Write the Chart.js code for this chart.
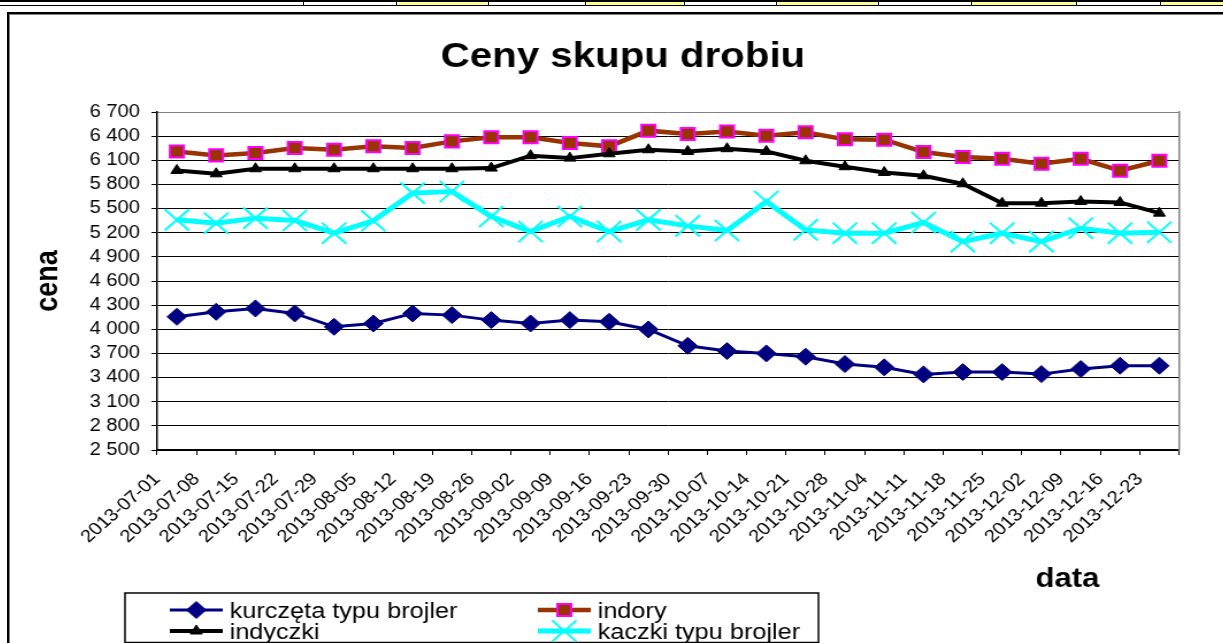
<!DOCTYPE html>
<html>
<head>
<meta charset="utf-8">
<title>Ceny skupu drobiu</title>
<script src="https://cdn.jsdelivr.net/npm/chart.js@4.4.0/dist/chart.umd.min.js"></script>
<style>
    html, body { margin: 0; padding: 0; background: #fff; overflow: hidden; }
    #strip { position: absolute; left: 0; top: 0; width: 1223px; height: 3px; border-top: 2px solid #000; border-bottom: 1px solid #000; }
    .cell { position: absolute; top: 0; height: 3px; border-left: 1px solid #000; }
    .yel { background: #ffff99; }
    #frame { position: absolute; left: 7px; top: 12px; width: 1300px; height: 700px; border: 2px solid #000; box-shadow: inset 1px 1px 0 #808080; }
    #wrap { position: absolute; left: 10px; top: 15px; width: 1055px; height: 628px; transform: scaleX(1.15); transform-origin: 0 0; }
</style>
</head>
<body>
<div id="strip">
    <div class="cell" style="left:303px;width:93px"></div>
    <div class="cell yel" style="left:396px;width:92px"></div>
    <div class="cell" style="left:488px;width:97px"></div>
    <div class="cell yel" style="left:585px;width:99px"></div>
    <div class="cell" style="left:684px;width:92px"></div>
    <div class="cell yel" style="left:776px;width:102px"></div>
    <div class="cell" style="left:878px;width:93px"></div>
    <div class="cell yel" style="left:971px;width:105px"></div>
    <div class="cell" style="left:1076px;width:84px"></div>
    <div class="cell yel" style="left:1160px;width:63px"></div>
</div>
<div id="frame"></div>
<div id="wrap">
    <canvas id="chart" width="1055" height="628" style="width:1055px;height:628px"></canvas>
</div>
<script>
// dane
const dates = ['2013-07-01', '2013-07-08', '2013-07-15', '2013-07-22', '2013-07-29', '2013-08-05',
    '2013-08-12', '2013-08-19', '2013-08-26', '2013-09-02', '2013-09-09', '2013-09-16', '2013-09-23',
    '2013-09-30', '2013-10-07', '2013-10-14', '2013-10-21', '2013-10-28', '2013-11-04', '2013-11-11',
    '2013-11-18', '2013-11-25', '2013-12-02', '2013-12-09', '2013-12-16', '2013-12-23'];

const kurczeta = [4155, 4217, 4259, 4197, 4031, 4072, 4197, 4176, 4114, 4072, 4114, 4093, 3998,
    3795, 3729, 3700, 3659, 3568, 3527, 3439, 3468, 3468, 3443, 3506, 3547, 3547];
const indory = [6210, 6161, 6190, 6252, 6231, 6273, 6252, 6335, 6385, 6385, 6314, 6273, 6468,
    6426, 6459, 6405, 6447, 6360, 6356, 6202, 6140, 6119, 6057, 6119, 5970, 6094];
const indyczki = [5974, 5932, 5995, 5995, 5995, 5995, 5995, 5995, 6003, 6157, 6127, 6181, 6231,
    6210, 6244, 6210, 6094, 6020, 5949, 5908, 5808, 5567, 5567, 5588, 5576, 5443];
const kaczki = [5360, 5318, 5381, 5352, 5194, 5348, 5692, 5712, 5401, 5215, 5401, 5215, 5360,
    5285, 5227, 5588, 5235, 5194, 5194, 5327, 5090, 5194, 5090, 5256, 5194, 5206];

const seriesNames = ['kurczęta typu brojler', 'indory', 'indyczki', 'kaczki typu brojler'];
const chartTitle = 'Ceny skupu drobiu';
const yTitle = 'cena';
const xTitle = 'data';
const yMin = 2500;
const yMax = 6700;
const yStep = 300;

const FONT = '"Liberation Sans", Arial, sans-serif';

// liczby ze spacja jako separatorem tysiecy
function fmt(v) {
    return String(v).replace(/\B(?=(\d{3})+(?!\d))/g, ' ');
}

// legenda w ramce (2 kolumny) + opis osi X
const boxLegend = {
    id: 'boxLegend',
    afterDraw(chart) {
        const ctx = chart.ctx;
        const a = chart.chartArea;
        ctx.save();

        ctx.fillStyle = '#000';
        ctx.font = 'bold 27px ' + FONT;
        ctx.textAlign = 'center';
        ctx.textBaseline = 'middle';
        ctx.fillText(xTitle, a.right - 97, a.bottom + 130);

        ctx.strokeStyle = '#000';
        ctx.lineWidth = 1.5;
        ctx.strokeRect(100, 578, 603, 49.5);

        ctx.font = '22px ' + FONT;
        ctx.textAlign = 'left';
        ctx.textBaseline = 'alphabetic';
        const colX = [139, 459];
        const rowY = [603, 624];
        chart.data.datasets.forEach((ds, i) => {
            const x = colX[i % 2];
            const base = rowY[Math.floor(i / 2)];
            const mid = base - 8;
            ctx.strokeStyle = ds.borderColor;
            ctx.lineWidth = ds.borderWidth;
            ctx.beginPath();
            ctx.moveTo(x, mid);
            ctx.lineTo(x + 46, mid);
            ctx.stroke();
            ctx.fillStyle = ds.pointBackgroundColor;
            ctx.strokeStyle = ds.pointBorderColor;
            ctx.lineWidth = ds.pointBorderWidth;
            Chart.helpers.drawPoint(ctx, {
                pointStyle: ds.pointStyle,
                radius: ds.pointRadius,
                borderWidth: ds.pointBorderWidth,
                rotation: 0
            }, x + 23, mid);
            ctx.fillStyle = '#000';
            ctx.fillText(ds.label, x + 52, base);
        });
        ctx.restore();
    }
};

const datasets = [
    {
        label: seriesNames[0], data: kurczeta, order: 4,
        borderColor: '#000080', borderWidth: 3,
        pointStyle: 'rectRot', pointRadius: 8.5,
        pointBackgroundColor: '#000080', pointBorderColor: '#000080', pointBorderWidth: 1
    },
    {
        label: seriesNames[1], data: indory, order: 3,
        borderColor: '#993300', borderWidth: 4.5,
        pointStyle: 'rect', pointRadius: 8.5,
        pointBackgroundColor: '#993300', pointBorderColor: '#ff00ff', pointBorderWidth: 2
    },
    {
        label: seriesNames[2], data: indyczki, order: 2,
        borderColor: '#000000', borderWidth: 4,
        pointStyle: 'triangle', pointRadius: 6,
        pointBackgroundColor: '#000000', pointBorderColor: '#000000', pointBorderWidth: 1
    },
    {
        label: seriesNames[3], data: kaczki, order: 1,
        borderColor: '#00ffff', borderWidth: 5,
        pointStyle: 'crossRot', pointRadius: 15,
        pointBackgroundColor: '#00ffff', pointBorderColor: '#00ffff', pointBorderWidth: 2
    }
];

new Chart(document.getElementById('chart'), {
    type: 'line',
    data: { labels: dates, datasets },
    options: {
        responsive: false,
        animation: false,
        events: [],
        layout: { padding: { left: 11, right: 0, top: 0, bottom: 93 } },
        elements: { line: { tension: 0 } },
        plugins: {
            legend: { display: false },
            tooltip: { enabled: false },
            title: {
                display: true,
                text: chartTitle,
                color: '#000',
                font: { family: FONT, size: 35, weight: 'bold' },
                padding: { top: 21.5, bottom: 33.5 }
            }
        },
        scales: {
            x: {
                offset: true,
                afterFit: (s) => { s.height = 100; },
                grid: { offset: true, drawOnChartArea: false, drawTicks: true, tickLength: 5, color: '#000' },
                border: { color: '#000', width: 1.5 },
                ticks: {
                    color: '#000',
                    font: { family: FONT, size: 17.5 },
                    minRotation: 45, maxRotation: 45,
                    autoSkip: false,
                    labelOffset: -17,
                    padding: 14
                }
            },
            y: {
                min: yMin, max: yMax,
                afterFit: (s) => { s.width = 117; },
                grid: {
                    color: (c) => (c.tick && c.tick.value === yMax ? '#808080' : '#000'),
                    tickColor: '#000',
                    tickLength: 5,
                    lineWidth: 1
                },
                border: { color: '#000', width: 1.5 },
                ticks: {
                    stepSize: yStep,
                    color: '#000',
                    font: { family: FONT, size: 17.5 },
                    padding: 10,
                    callback: (v) => fmt(v)
                },
                title: {
                    display: true,
                    text: yTitle,
                    color: '#000',
                    font: { family: FONT, size: 27, weight: 'bold' },
                    padding: { top: 6, bottom: 0 }
                }
            },
            // prawa (szara) krawedz obszaru wykresu
            yRight: {
                position: 'right',
                display: true,
                afterFit: (s) => { s.width = 38.5; },
                grid: { drawOnChartArea: false, drawTicks: false },
                border: { color: '#808080', width: 1.5 },
                ticks: { display: false }
            }
        }
    },
    plugins: [boxLegend]
});
</script>
</body>
</html>
